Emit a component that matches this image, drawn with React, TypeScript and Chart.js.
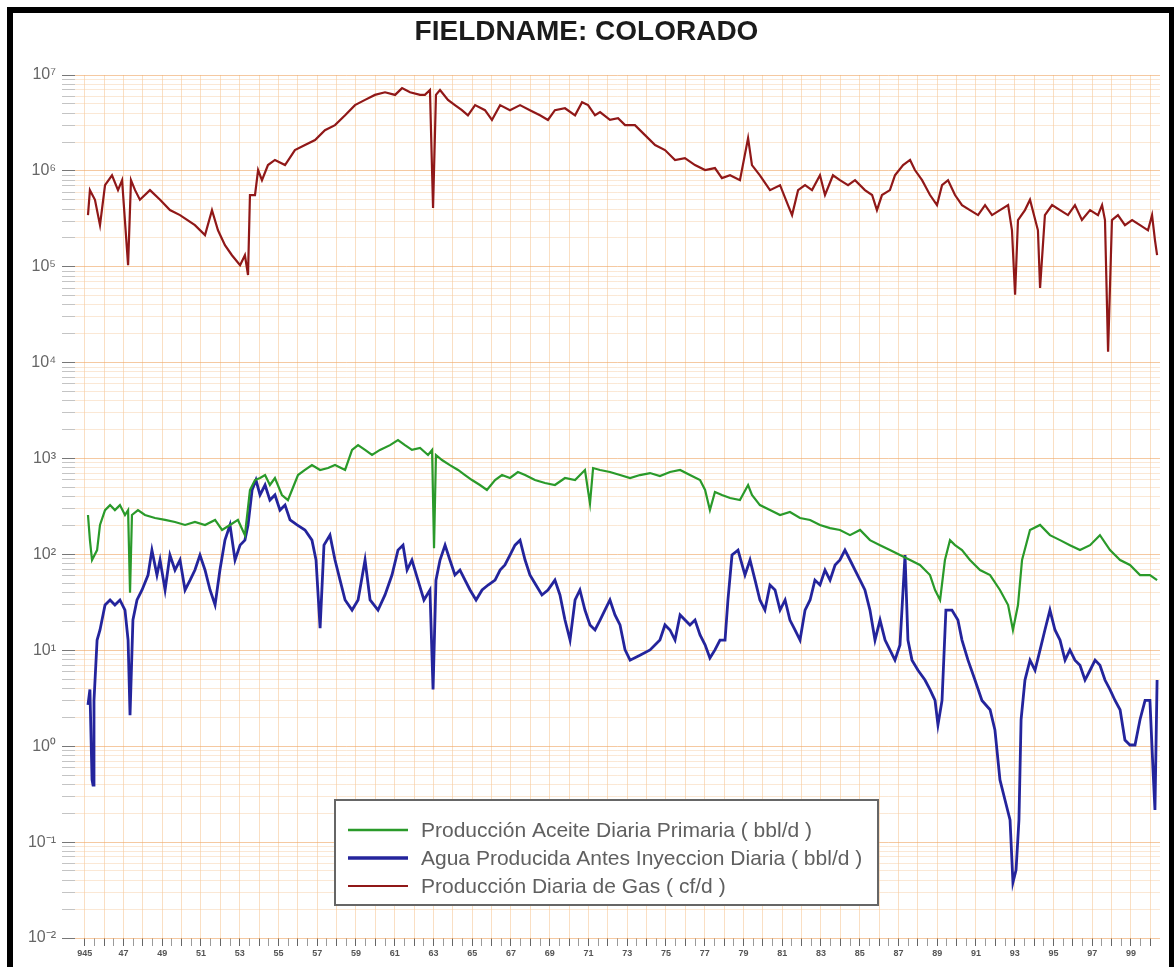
import { useEffect, useRef } from "react";
import { Chart, registerables } from "chart.js";

Chart.register(...registerables);

const TITLE = "FIELDNAME: COLORADO";

const X_MIN = 1944.5;
const X_MAX = 2000.5;
const X_LABEL_YEARS = [1945, 1947, 1949, 1951, 1953, 1955, 1957, 1959, 1961, 1963, 1965, 1967, 1969, 1971, 1973, 1975, 1977, 1979, 1981, 1983, 1985, 1987, 1989, 1991, 1993, 1995, 1997, 1999];
const X_TICK_LABELS = ["945", "47", "49", "51", "53", "55", "57", "59", "61", "63", "65", "67", "69", "71", "73", "75", "77", "79", "81", "83", "85", "87", "89", "91", "93", "95", "97", "99"];

const Y_DECADES = [1e-2, 1e-1, 1e0, 1e1, 1e2, 1e3, 1e4, 1e5, 1e6, 1e7];
const Y_TICK_LABELS = ["10⁻²", "10⁻¹", "10⁰", "10¹", "10²", "10³", "10⁴", "10⁵", "10⁶", "10⁷"];
const Y_MINOR_STEPS = [2, 3, 4, 5, 6, 7, 8, 9];

const SERIES_LABELS = [
  "Producción Aceite Diaria Primaria ( bbl/d )",
  "Agua Producida Antes Inyeccion Diaria ( bbl/d )",
  "Producción Diaria de Gas ( cf/d )",
];

const OIL_YEARS = [1945.17, 1945.27, 1945.38, 1945.64, 1945.79, 1946.05, 1946.31, 1946.56, 1946.82, 1947.08, 1947.24, 1947.34, 1947.44, 1947.75, 1948.11, 1948.63, 1949.15, 1949.66, 1950.18, 1950.69, 1951.21, 1951.73, 1952.09, 1952.5, 1952.91, 1953.27, 1953.53, 1953.79, 1954.05, 1954.31, 1954.56, 1954.82, 1955.18, 1955.49, 1955.7, 1956.01, 1956.37, 1956.73, 1957.15, 1957.56, 1957.92, 1958.44, 1958.8, 1959.11, 1959.47, 1959.83, 1960.24, 1960.76, 1961.17, 1961.53, 1961.89, 1962.31, 1962.72, 1962.93, 1963.03, 1963.13, 1963.44, 1963.85, 1964.27, 1964.63, 1964.99, 1965.4, 1965.76, 1966.18, 1966.54, 1966.95, 1967.36, 1967.73, 1968.24, 1968.76, 1969.27, 1969.79, 1970.31, 1970.82, 1971.08, 1971.24, 1971.6, 1972.11, 1972.63, 1973.15, 1973.66, 1974.18, 1974.69, 1975.21, 1975.73, 1976.24, 1976.76, 1977.02, 1977.27, 1977.53, 1977.89, 1978.31, 1978.82, 1979.24, 1979.44, 1979.85, 1980.37, 1980.89, 1981.4, 1981.92, 1982.44, 1982.95, 1983.47, 1983.98, 1984.5, 1985.02, 1985.53, 1986.05, 1986.56, 1987.08, 1987.6, 1988.11, 1988.63, 1988.89, 1989.15, 1989.4, 1989.66, 1989.92, 1990.28, 1990.69, 1991.21, 1991.73, 1992.24, 1992.66, 1992.91, 1993.17, 1993.38, 1993.79, 1994.31, 1994.82, 1995.34, 1995.85, 1996.37, 1996.89, 1997.4, 1997.92, 1998.44, 1998.95, 1999.47, 1999.98, 2000.35];
const OIL_VALUES = [258, 141, 87.5, 111, 203, 290, 327, 290, 327, 258, 290, 40, 258, 290, 258, 240, 229, 218, 203, 218, 203, 229, 180, 203, 229, 159, 470, 597, 627, 673, 530, 627, 417, 369, 470, 673, 760, 855, 760, 796, 855, 760, 1230, 1380, 1230, 1090, 1230, 1380, 1560, 1380, 1230, 1290, 1090, 1230, 116, 1090, 965, 855, 760, 673, 597, 530, 470, 597, 673, 627, 724, 673, 597, 556, 530, 627, 597, 760, 340, 796, 760, 724, 673, 627, 673, 706, 657, 724, 760, 673, 597, 470, 290, 448, 417, 388, 369, 530, 417, 327, 290, 258, 277, 240, 229, 203, 188, 180, 159, 180, 141, 125, 111, 98.6, 87.5, 77.6, 61, 42.6, 33.5, 87.5, 141, 125, 111, 87.5, 68.8, 61, 42.6, 29.7, 16.3, 29.7, 87.5, 180, 203, 159, 141, 125, 111, 125, 159, 111, 87.5, 77.6, 61, 61, 54];

const WATER_YEARS = [1945.17, 1945.27, 1945.38, 1945.43, 1945.48, 1945.64, 1945.79, 1946.05, 1946.31, 1946.56, 1946.82, 1947.08, 1947.24, 1947.34, 1947.49, 1947.7, 1947.96, 1948.27, 1948.47, 1948.73, 1948.89, 1949.15, 1949.4, 1949.66, 1949.92, 1950.18, 1950.44, 1950.69, 1950.95, 1951.21, 1951.47, 1951.73, 1951.98, 1952.24, 1952.5, 1952.76, 1953.02, 1953.27, 1953.43, 1953.64, 1953.84, 1954.05, 1954.31, 1954.56, 1954.82, 1955.08, 1955.34, 1955.6, 1955.96, 1956.37, 1956.73, 1956.94, 1957.15, 1957.35, 1957.66, 1957.92, 1958.18, 1958.44, 1958.8, 1959.11, 1959.47, 1959.73, 1960.14, 1960.5, 1960.86, 1961.17, 1961.43, 1961.64, 1961.89, 1962.2, 1962.51, 1962.82, 1962.98, 1963.13, 1963.34, 1963.6, 1963.85, 1964.11, 1964.37, 1964.63, 1964.89, 1965.2, 1965.51, 1965.82, 1966.18, 1966.44, 1966.69, 1966.95, 1967.21, 1967.47, 1967.73, 1967.98, 1968.29, 1968.6, 1968.91, 1969.27, 1969.53, 1969.79, 1970.05, 1970.31, 1970.56, 1970.82, 1971.08, 1971.34, 1971.6, 1971.85, 1972.11, 1972.37, 1972.63, 1972.89, 1973.15, 1973.66, 1974.18, 1974.69, 1974.95, 1975.21, 1975.47, 1975.73, 1976.24, 1976.5, 1976.76, 1977.02, 1977.27, 1977.53, 1977.79, 1978.05, 1978.2, 1978.41, 1978.72, 1979.08, 1979.34, 1979.6, 1979.85, 1980.11, 1980.37, 1980.63, 1980.89, 1981.15, 1981.4, 1981.66, 1981.92, 1982.18, 1982.44, 1982.69, 1982.95, 1983.21, 1983.47, 1983.73, 1983.98, 1984.24, 1984.5, 1984.76, 1985.02, 1985.27, 1985.53, 1985.79, 1986.05, 1986.31, 1986.56, 1986.82, 1987.08, 1987.34, 1987.49, 1987.7, 1988.01, 1988.37, 1988.63, 1988.89, 1989.04, 1989.25, 1989.45, 1989.76, 1990.07, 1990.28, 1990.59, 1990.95, 1991.31, 1991.73, 1991.98, 1992.24, 1992.5, 1992.76, 1992.91, 1993.07, 1993.22, 1993.33, 1993.53, 1993.79, 1994.05, 1994.31, 1994.56, 1994.82, 1995.08, 1995.34, 1995.6, 1995.85, 1996.11, 1996.37, 1996.63, 1996.89, 1997.15, 1997.4, 1997.66, 1997.92, 1998.18, 1998.44, 1998.69, 1998.95, 1999.21, 1999.47, 1999.73, 1999.98, 2000.14, 2000.24, 2000.35];
const WATER_VALUES = [2.7, 3.9, 0.445, 0.394, 3.0, 12.8, 16.3, 29.7, 33.5, 29.7, 33.5, 26.3, 12.8, 2.1, 20.7, 33.5, 42.6, 61, 111, 61, 87.5, 42.6, 98.6, 68.8, 87.5, 42.6, 54, 68.8, 98.6, 68.8, 42.6, 29.7, 68.8, 141, 203, 87.5, 125, 141, 203, 470, 597, 417, 530, 369, 417, 290, 327, 229, 203, 180, 141, 87.5, 17, 125, 159, 87.5, 54, 33.5, 26.3, 33.5, 87.5, 33.5, 26.3, 37.8, 61, 111, 125, 68.8, 87.5, 54, 33.5, 42.6, 3.9, 54, 87.5, 125, 87.5, 61, 68.8, 54, 42.6, 33.5, 42.6, 48, 54, 68.8, 77.6, 98.6, 125, 141, 87.5, 61, 48, 37.8, 42.6, 54, 37.8, 20.7, 12.8, 33.5, 42.6, 26.3, 18.4, 16.3, 20.7, 26.3, 33.5, 23.4, 18.4, 10.1, 7.9, 8.9, 10.1, 12.8, 18.4, 16.3, 12.8, 23.4, 18.4, 20.7, 14.5, 11.4, 8.3, 10.1, 12.8, 12.8, 33.5, 98.6, 111, 61, 87.5, 54, 33.5, 26.3, 48, 42.6, 26.3, 33.5, 20.7, 16.3, 12.8, 26.3, 33.5, 54, 48, 68.8, 54, 77.6, 87.5, 111, 87.5, 68.8, 54, 42.6, 26.3, 12.8, 20.7, 12.8, 10.1, 7.9, 11.4, 98.6, 12.8, 7.9, 6.2, 4.9, 3.9, 3.0, 1.67, 3.0, 26.3, 26.3, 20.7, 12.8, 7.9, 4.9, 3.0, 2.4, 1.48, 0.445, 0.275, 0.17, 0.038, 0.051, 0.17, 1.9, 4.9, 7.9, 6.2, 10.1, 16.3, 26.3, 16.3, 12.8, 7.9, 10.1, 7.9, 7.0, 4.9, 6.2, 7.9, 7.0, 4.9, 3.9, 3.0, 2.4, 1.16, 1.03, 1.03, 1.9, 3.0, 3.0, 0.565, 0.216, 4.9];

const GAS_YEARS = [1945.17, 1945.27, 1945.53, 1945.79, 1946.05, 1946.41, 1946.72, 1946.93, 1947.24, 1947.39, 1947.6, 1947.85, 1948.37, 1948.89, 1949.4, 1949.92, 1950.69, 1951.21, 1951.57, 1951.88, 1952.24, 1952.6, 1953.02, 1953.27, 1953.43, 1953.53, 1953.79, 1953.95, 1954.15, 1954.46, 1954.82, 1955.34, 1955.85, 1956.37, 1956.89, 1957.4, 1957.92, 1958.44, 1958.95, 1959.47, 1959.98, 1960.5, 1961.02, 1961.38, 1961.79, 1962.31, 1962.56, 1962.82, 1962.98, 1963.13, 1963.34, 1963.75, 1964.11, 1964.47, 1964.78, 1965.15, 1965.66, 1966.02, 1966.44, 1966.95, 1967.47, 1967.98, 1968.5, 1968.91, 1969.27, 1969.79, 1970.31, 1970.67, 1970.98, 1971.34, 1971.6, 1972.11, 1972.53, 1972.89, 1973.4, 1973.92, 1974.44, 1974.95, 1975.47, 1975.98, 1976.5, 1977.02, 1977.53, 1977.89, 1978.31, 1978.82, 1979.24, 1979.44, 1979.85, 1980.37, 1980.89, 1981.3, 1981.51, 1981.82, 1982.18, 1982.54, 1982.95, 1983.21, 1983.62, 1983.98, 1984.4, 1984.76, 1985.27, 1985.64, 1985.89, 1986.15, 1986.56, 1986.82, 1987.24, 1987.6, 1987.85, 1988.22, 1988.63, 1988.99, 1989.25, 1989.56, 1989.92, 1990.28, 1990.69, 1991.11, 1991.47, 1991.83, 1992.24, 1992.66, 1992.86, 1993.02, 1993.17, 1993.53, 1993.79, 1994.2, 1994.31, 1994.56, 1994.93, 1995.34, 1995.75, 1996.11, 1996.47, 1996.89, 1997.3, 1997.51, 1997.66, 1997.82, 1998.02, 1998.33, 1998.69, 1999.06, 1999.47, 1999.88, 2000.09, 2000.24, 2000.35];
const GAS_VALUES = [3.46e5, 6.3e5, 5.0e5, 2.72e5, 7.1e5, 9.0e5, 6.3e5, 8.0e5, 1.04e5, 8.0e5, 6.3e5, 5.0e5, 6.3e5, 5.0e5, 3.9e5, 3.46e5, 2.72e5, 2.14e5, 3.9e5, 2.4e5, 1.68e5, 1.32e5, 1.04e5, 1.32e5, 8.2e4, 5.6e5, 5.6e5, 1.02e6, 8.0e5, 1.15e6, 1.3e6, 1.15e6, 1.65e6, 1.86e6, 2.1e6, 2.66e6, 3.0e6, 3.8e6, 4.85e6, 5.5e6, 6.2e6, 6.6e6, 6.2e6, 7.3e6, 6.6e6, 6.2e6, 6.2e6, 6.97e6, 4.1e5, 6.2e6, 6.97e6, 5.5e6, 4.85e6, 4.3e6, 3.8e6, 4.85e6, 4.3e6, 3.4e6, 4.85e6, 4.3e6, 4.85e6, 4.3e6, 3.8e6, 3.4e6, 4.3e6, 4.5e6, 3.8e6, 5.2e6, 4.85e6, 3.8e6, 4.1e6, 3.4e6, 3.55e6, 3.0e6, 3.0e6, 2.36e6, 1.86e6, 1.65e6, 1.3e6, 1.36e6, 1.15e6, 1.02e6, 1.07e6, 8.4e5, 9.0e5, 8.0e5, 2.2e6, 1.15e6, 9.0e5, 6.3e5, 7.1e5, 4.4e5, 3.46e5, 6.3e5, 7.1e5, 6.3e5, 9.0e5, 5.6e5, 9.0e5, 8.0e5, 7.1e5, 8.0e5, 6.3e5, 5.6e5, 3.9e5, 5.6e5, 6.3e5, 9.0e5, 1.15e6, 1.3e6, 1.02e6, 8.0e5, 5.6e5, 4.4e5, 7.1e5, 8.0e5, 5.6e5, 4.4e5, 3.9e5, 3.46e5, 4.4e5, 3.46e5, 3.9e5, 4.4e5, 2.4e5, 5.1e4, 3.07e5, 3.9e5, 5.0e5, 2.4e5, 6.0e4, 3.46e5, 4.4e5, 3.9e5, 3.46e5, 4.4e5, 3.07e5, 3.9e5, 3.46e5, 4.4e5, 3.07e5, 1.3e4, 3.07e5, 3.46e5, 2.72e5, 3.07e5, 2.72e5, 2.4e5, 3.46e5, 1.9e5, 1.32e5];

const COLORS = ["#2a9a2a", "#24249c", "#901818"];
const WIDTHS = [2.2, 2.8, 2.2];
const LEGEND_WIDTHS = [2.5, 3.5, 2];

const toPoints = (xs: number[], ys: number[]) => xs.map((x, i) => ({ x, y: ys[i] }));

const isDecade = (v: number) => Y_DECADES.some((d) => Math.abs(d - v) < d * 1e-9);

const boxLegend = {
  id: "boxLegend",
  afterDatasetsDraw(chart: any) {
    const { ctx, chartArea } = chart;
    const x0 = chartArea.left + 260;
    const y0 = chartArea.top + 725;
    const w = 543;
    const h = 105;
    ctx.save();
    ctx.fillStyle = "#ffffff";
    ctx.fillRect(x0, y0, w, h);
    ctx.strokeStyle = "#666666";
    ctx.lineWidth = 2;
    ctx.strokeRect(x0, y0, w, h);
    ctx.font = "21px 'Liberation Sans', Arial, sans-serif";
    ctx.textBaseline = "middle";
    ctx.textAlign = "left";
    chart.data.datasets.forEach((ds: any, i: number) => {
      const cy = y0 + 30 + i * 28;
      ctx.strokeStyle = ds.borderColor;
      ctx.lineWidth = LEGEND_WIDTHS[i];
      ctx.beginPath();
      ctx.moveTo(x0 + 13, cy);
      ctx.lineTo(x0 + 73, cy);
      ctx.stroke();
      ctx.fillStyle = "#606060";
      ctx.fillText(ds.label, x0 + 86, cy + 1);
    });
    ctx.restore();
  },
};

export default function App() {
  const ref = useRef<HTMLCanvasElement | null>(null);

  useEffect(() => {
    if (!ref.current) return;
    Chart.defaults.font.family = "'Liberation Sans', Arial, sans-serif";
    const chart = new Chart(ref.current, {
      type: "line",
      data: {
        datasets: [
          { label: SERIES_LABELS[0], data: toPoints(OIL_YEARS, OIL_VALUES), borderColor: COLORS[0], borderWidth: WIDTHS[0], pointRadius: 0, tension: 0, fill: false },
          { label: SERIES_LABELS[1], data: toPoints(WATER_YEARS, WATER_VALUES), borderColor: COLORS[1], borderWidth: WIDTHS[1], pointRadius: 0, tension: 0, fill: false },
          { label: SERIES_LABELS[2], data: toPoints(GAS_YEARS, GAS_VALUES), borderColor: COLORS[2], borderWidth: WIDTHS[2], pointRadius: 0, tension: 0, fill: false },
        ],
      },
      options: {
        animation: false,
        responsive: false,
        devicePixelRatio: 1,
        layout: { padding: { left: 0, right: 9, top: 0, bottom: 0 } },
        plugins: {
          legend: { display: false },
          tooltip: { enabled: false },
          title: {
            display: true,
            text: TITLE,
            color: "#1b1b1b",
            font: { size: 28, weight: "bold" },
            padding: { top: 2, bottom: 26.4 },
          },
        },
        scales: {
          x: {
            type: "linear",
            min: X_MIN,
            max: X_MAX,
            afterBuildTicks: (scale: any) => {
              const t: { value: number }[] = [];
              for (let v = 1945; v <= 2000; v += 0.5) t.push({ value: v });
              scale.ticks = t;
            },
            afterFit: (scale: any) => {
              scale.height = 29;
            },
            border: { display: false },
            grid: {
              color: (c: any) => (c.tick && Number.isInteger(c.tick.value) ? "rgba(245, 192, 135, 0.5)" : "rgba(0,0,0,0)"),
              lineWidth: 1,
              tickLength: 8,
              tickColor: (c: any) => (c.tick && Number.isInteger(c.tick.value) ? "#666666" : "#9a9a9a"),
            },
            ticks: {
              autoSkip: false,
              maxRotation: 0,
              minRotation: 0,
              padding: 2,
              color: "#555555",
              font: { size: 9, weight: "bold" },
              callback: (value: any) => {
                const i = X_LABEL_YEARS.indexOf(Number(value));
                return i >= 0 ? X_TICK_LABELS[i] : "";
              },
            },
          },
          y: {
            type: "logarithmic",
            min: Y_DECADES[0],
            max: Y_DECADES[Y_DECADES.length - 1],
            afterBuildTicks: (scale: any) => {
              const t: { value: number }[] = [];
              Y_DECADES.forEach((d, i) => {
                t.push({ value: d });
                if (i < Y_DECADES.length - 1) Y_MINOR_STEPS.forEach((m) => t.push({ value: m * d }));
              });
              scale.ticks = t;
            },
            afterFit: (scale: any) => {
              scale.width = 62;
            },
            border: { display: false },
            grid: {
              color: (c: any) => (c.tick && isDecade(c.tick.value) ? "rgba(240, 172, 110, 0.65)" : "rgba(247, 203, 162, 0.45)"),
              lineWidth: 1,
              tickLength: 13,
              tickColor: (c: any) => (c.tick && isDecade(c.tick.value) ? "#777777" : "#c4c4c4"),
            },
            ticks: {
              autoSkip: false,
              padding: 6,
              color: "#666666",
              font: { size: 16 },
              callback: (value: any) => {
                const i = Y_DECADES.findIndex((d) => Math.abs(d - Number(value)) < d * 1e-9);
                return i >= 0 ? Y_TICK_LABELS[i] : "";
              },
            },
          },
        },
      },
      plugins: [boxLegend],
    } as any);
    return () => chart.destroy();
  }, []);

  return (
    <div
      style={{
        position: "absolute",
        left: 7,
        top: 7,
        width: 1156,
        height: 954,
        borderTop: "6px solid #000",
        borderLeft: "6px solid #000",
        borderRight: "5px solid #000",
        background: "#fff",
        overflow: "hidden",
      }}
    >
      <canvas ref={ref} width={1156} height={954} style={{ display: "block" }} />
    </div>
  );
}
